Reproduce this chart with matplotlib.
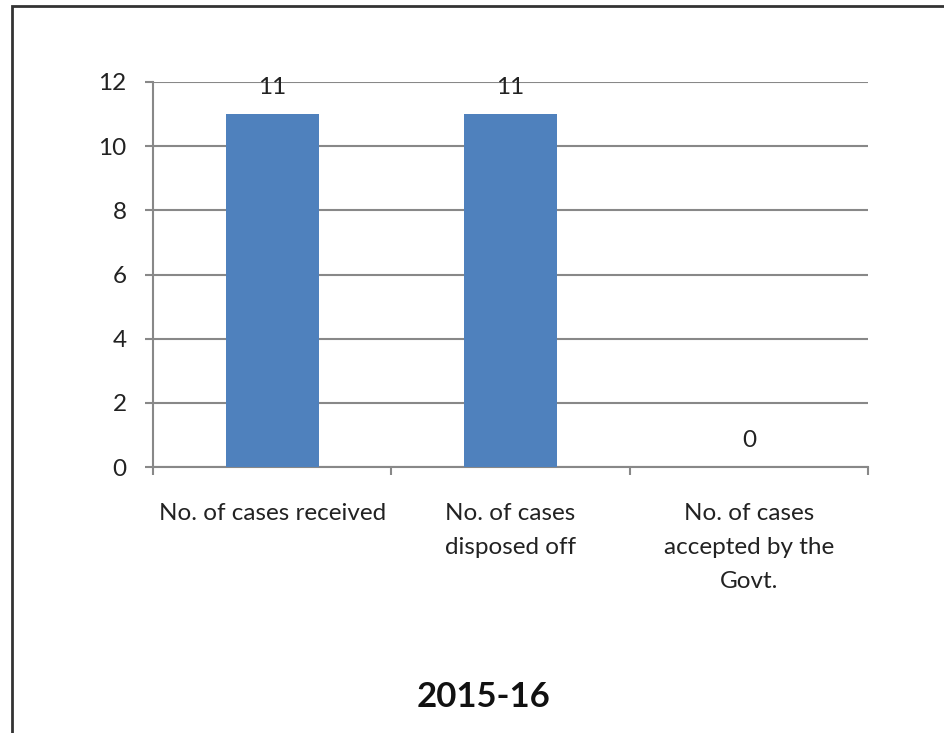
import matplotlib
matplotlib.use("Agg")
import matplotlib.pyplot as plt
from matplotlib.patches import Rectangle

categories = ["No. of cases received", "No. of cases\ndisposed off", "No. of cases\naccepted by the\nGovt."]
values = [11, 11, 0]
yticks = [0, 2, 4, 6, 8, 10, 12]
title = "2015-16"

plt.rcParams['font.family'] = ['Lato', 'DejaVu Sans']

fig = plt.figure(figsize=(9.44, 7.33), dpi=100)
# outer frame
fig.patches.append(Rectangle((12/944, -0.1), 1.2, (733-6)/733 + 0.1, transform=fig.transFigure,
                             fill=False, edgecolor='#333333', linewidth=2, zorder=0))

ax = fig.add_axes([153/944, 1-467/733, 715/944, 385/733])
gray = '#888888'
fs = 17.5
x = list(range(len(categories)))
ax.bar(x, values, width=0.39, color='#4F81BD', zorder=3)
ax.set_xlim(-0.5, len(categories)-0.5)
ax.set_ylim(0, 12)
ax.set_yticks(yticks)
ax.set_yticklabels([str(t) for t in yticks], fontsize=fs, color='#222222')
ax.yaxis.grid(True, color=gray, linewidth=1.5, zorder=0)
ax.set_axisbelow(True)
for s in ['top', 'right']:
    ax.spines[s].set_visible(False)
for s in ['left', 'bottom']:
    ax.spines[s].set_color(gray)
    ax.spines[s].set_linewidth(1.5)
ax.tick_params(axis='y', length=6, width=1.5, color=gray, pad=13)
ax.set_xticks([-0.5 + i for i in range(len(categories)+1)])
ax.set_xticklabels([])
ax.tick_params(axis='x', length=6, width=1.5, color=gray)
for i, c in enumerate(categories):
    ax.annotate(c, (i, 0), xytext=(0, -36), textcoords='offset pixels',
                ha='center', va='top', fontsize=fs, color='#222222', linespacing=1.75)
for i, v in enumerate(values):
    ax.annotate(str(v), (i, v), xytext=(0, 20), textcoords='offset pixels',
                ha='center', va='baseline', fontsize=fs, color='#222222')

fig.text(484/944, 1-697/733, title, ha='center', va='center', fontsize=25, fontweight='bold', color='#111111')

fig.savefig('out.png', dpi=100)
